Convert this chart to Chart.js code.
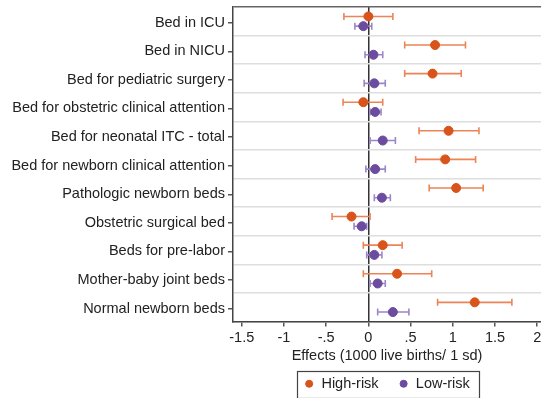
<!DOCTYPE html>
<html>
<head>
<meta charset="utf-8">
<script src="https://cdn.jsdelivr.net/npm/chart.js@4/dist/chart.umd.min.js"></script>
<style>
  html, body { margin: 0; padding: 0; background: #fff; }
  #wrap { width: 541px; height: 398px; }
</style>
</head>
<body>
<div id="wrap"><canvas id="myChart" width="541" height="398"></canvas></div>
<script>
// bed types, top to bottom
const categories = [
    'Bed in ICU',
    'Bed in NICU',
    'Bed for pediatric surgery',
    'Bed for obstetric clinical attention',
    'Bed for neonatal ITC - total',
    'Bed for newborn clinical attention',
    'Pathologic newborn beds',
    'Obstetric surgical bed',
    'Beds for pre-labor',
    'Mother-baby joint beds',
    'Normal newborn beds'
];

// high-risk estimates and 95% CI
const highEst = [0.00, 0.79, 0.76, -0.06, 0.95, 0.91, 1.04, -0.20, 0.17, 0.34, 1.26];
const highLo  = [-0.29, 0.43, 0.43, -0.30, 0.60, 0.56, 0.72, -0.43, -0.06, -0.06, 0.82];
const highHi  = [0.29, 1.15, 1.10, 0.17, 1.31, 1.27, 1.36, 0.02, 0.40, 0.75, 1.70];

// low-risk estimates and 95% CI
const lowEst = [-0.06, 0.06, 0.07, 0.08, 0.17, 0.08, 0.16, -0.08, 0.07, 0.11, 0.29];
const lowLo  = [-0.16, -0.04, -0.05, 0.02, 0.02, -0.03, 0.07, -0.17, -0.02, 0.02, 0.11];
const lowHi  = [0.04, 0.17, 0.20, 0.15, 0.32, 0.20, 0.26, -0.02, 0.16, 0.20, 0.48];

const xTicks = [-1.5, -1, -0.5, 0, 0.5, 1, 1.5, 2];

// stata style: .5 instead of 0.5
const fmtX = v => String(v).replace(/^0\./, '.').replace(/^-0\./, '-.');

const makePoints = (est, lo, hi, shift) => est.map((v, i) => ({x: v, y: i + shift, lo: lo[i], hi: hi[i]}));

const isCatTick = v => Math.abs(v - Math.round(v - 0.05) - 0.05) < 1e-6;

// horizontal CI bars with caps, drawn under the markers
const errorBars = {
    id: 'errorBars',
    beforeDatasetsDraw(chart) {
        const {ctx, scales: {x, y}} = chart;
        chart.data.datasets.forEach(ds => {
            ctx.save();
            ctx.strokeStyle = ds.barColor;
            ctx.lineWidth = 1.6;
            ds.data.forEach(p => {
                const yp = y.getPixelForValue(p.y);
                const x1 = x.getPixelForValue(p.lo);
                const x2 = x.getPixelForValue(p.hi);
                ctx.beginPath();
                ctx.moveTo(x1, yp); ctx.lineTo(x2, yp);
                ctx.moveTo(x1, yp - 3.5); ctx.lineTo(x1, yp + 3.5);
                ctx.moveTo(x2, yp - 3.5); ctx.lineTo(x2, yp + 3.5);
                ctx.stroke();
            });
            ctx.restore();
        });
    }
};

// frame around the legend items
const legendBox = {
    id: 'legendBox',
    afterDraw(chart) {
        const boxes = chart.legend.legendHitBoxes;
        if (!boxes || !boxes.length) return;
        const left = Math.min(...boxes.map(b => b.left)) - 7;
        const right = Math.max(...boxes.map(b => b.left + b.width)) + 9;
        const top = Math.min(...boxes.map(b => b.top)) - 6;
        const bottom = Math.max(...boxes.map(b => b.top + b.height)) + 6;
        const ctx = chart.ctx;
        ctx.save();
        ctx.strokeStyle = '#444';
        ctx.lineWidth = 1.2;
        ctx.strokeRect(Math.round(left) + 0.5, Math.round(top) + 0.5, Math.round(right - left), Math.round(bottom - top));
        ctx.restore();
    }
};

Chart.defaults.font.family = "'Liberation Sans', Arial, sans-serif";
Chart.defaults.font.size = 14.5;
Chart.defaults.color = '#222';

let ctx = document.getElementById('myChart').getContext('2d');
let forestChart = new Chart(ctx, {
    type: 'scatter',
    data: {
        datasets: [{
            label: 'High-risk',
            data: makePoints(highEst, highLo, highHi, -0.17),
            backgroundColor: '#d9541a',
            borderColor: '#d9541a',
            barColor: '#ec8456',
            pointRadius: 4.5,
            pointHoverRadius: 4.5
        }, {
            label: 'Low-risk',
            data: makePoints(lowEst, lowLo, lowHi, 0.17),
            backgroundColor: '#6b4c9e',
            borderColor: '#6b4c9e',
            barColor: '#9a86c8',
            pointRadius: 4.5,
            pointHoverRadius: 4.5
        }]
    },
    options: {
        responsive: false,
        animation: false,
        devicePixelRatio: 1,
        layout: { autoPadding: false, padding: { top: 7, right: 0, left: 0, bottom: -3 } },
        plugins: {
            tooltip: { enabled: false },
            legend: {
                position: 'bottom',
                fullSize: false,
                labels: {
                    usePointStyle: true,
                    pointStyle: 'circle',
                    boxWidth: 10,
                    boxHeight: 5,
                    padding: 20,
                    color: '#222',
                    font: { size: 14.5 }
                }
            }
        },
        scales: {
            x: {
                type: 'linear',
                min: -1.604,
                max: 2.045,
                afterBuildTicks: s => { s.ticks = xTicks.map(v => ({value: v})); },
                afterFit: s => { s.height = 35; s.paddingLeft = 0; s.paddingRight = 0; },
                border: { display: true, color: '#444', width: 1.5 },
                grid: {
                    color: c => (c.tick && c.tick.value === 0) ? '#333' : 'rgba(0,0,0,0)',
                    lineWidth: 1.5,
                    tickColor: '#555',
                    tickLength: 5
                },
                ticks: {
                    padding: 3,
                    color: '#222',
                    maxRotation: 0,
                    callback: v => fmtX(v)
                },
                title: {
                    display: true,
                    text: 'Effects (1000 live births/ 1 sd)',
                    color: '#222',
                    padding: { top: 0, bottom: -8 }
                }
            },
            y: {
                type: 'linear',
                reverse: true,
                min: -0.5,
                max: 10.5,
                afterBuildTicks: s => {
                    const t = [{value: -0.5}];
                    categories.forEach((c, i) => {
                        t.push({value: i + 0.05});
                        t.push({value: i + 0.5});
                    });
                    s.ticks = t;
                },
                afterFit: s => { s.width = 233; s.paddingTop = 0; s.paddingBottom = 0; },
                border: { display: true, color: '#444', width: 1.5 },
                grid: {
                    color: c => {
                        const v = c.tick ? c.tick.value : 0;
                        if (v === -0.5) return '#666';
                        return isCatTick(v) ? 'rgba(0,0,0,0)' : '#dedede';
                    },
                    lineWidth: 1.5,
                    tickColor: c => (c.tick && isCatTick(c.tick.value)) ? '#555' : 'rgba(0,0,0,0)',
                    tickLength: 5
                },
                ticks: {
                    padding: 3,
                    color: '#222',
                    autoSkip: false,
                    callback: v => isCatTick(v) ? categories[Math.round(v - 0.05)] : ''
                }
            }
        }
    },
    plugins: [errorBars, legendBox]
});
</script>
</body>
</html>
